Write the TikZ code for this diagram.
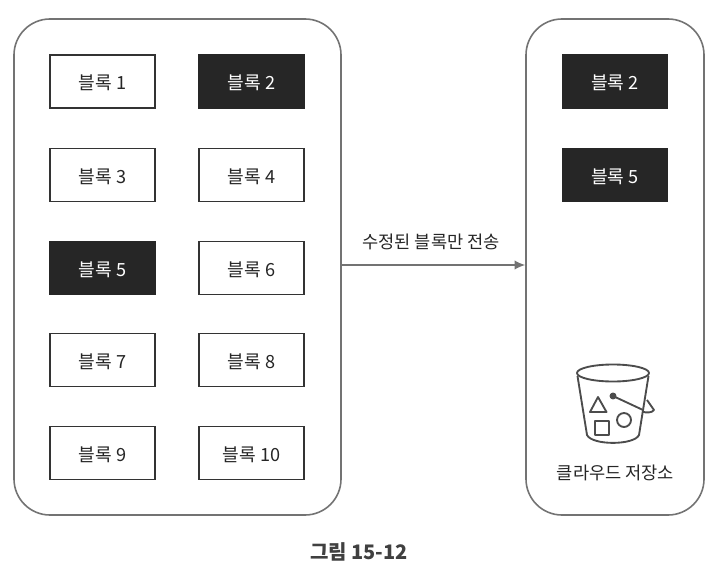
\documentclass[tikz,border=0pt]{standalone}
\usepackage{fontspec}
\usetikzlibrary{arrows.meta}
\setmainfont{Noto Sans CJK KR}
\begin{document}
\begin{tikzpicture}[x=0.75pt,y=-0.75pt,
  panel/.style={draw=black!55,line width=1.2pt,rounded corners=27pt,minimum width=0pt,inner sep=0pt},
  blockw/.style={draw=black!80,line width=0.9pt,fill=white,minimum width=78.75pt,minimum height=39.75pt,inner sep=0pt,text=black!85,font=\fontsize{13.6}{15}\selectfont,text height=13pt,text depth=0.6pt},
  blockd/.style={draw=black!85,line width=0.9pt,fill=black!85,minimum width=78.75pt,minimum height=39.75pt,inner sep=0pt,text=white,font=\fontsize{13.6}{15}\selectfont,text height=13pt,text depth=0.6pt},
  lab/.style={inner sep=0pt,text=black!85,font=\fontsize{13.2}{15}\selectfont},
  icon/.style={draw=black!70,line width=1.4pt,line join=round}]
\useasboundingbox (0,0) rectangle (720,574);
\node[panel,minimum width=245.25pt,minimum height=372pt] (left) at (177.5,267) {};
\node[panel,minimum width=133.5pt,minimum height=372pt] (right) at (615,267) {};
\node[blockw] (b1) at (102.5,81.5) {블록 1};
\node[blockd] (b2) at (251.5,81.5) {블록 2};
\node[blockw] (b3) at (102.5,175) {블록 3};
\node[blockw] (b4) at (251.5,175) {블록 4};
\node[blockd] (b5) at (102.5,268) {블록 5};
\node[blockw] (b6) at (251.5,268) {블록 6};
\node[blockw] (b7) at (102.5,360) {블록 7};
\node[blockw] (b8) at (251.5,360) {블록 8};
\node[blockw] (b9) at (102.5,453) {블록 9};
\node[blockw] (b10) at (251.5,453) {블록 10};
\node[blockd] (r2) at (615,81.5) {블록 2};
\node[blockd] (r5) at (615,175) {블록 5};
\coordinate (a0) at (left.east |- 0,265);
\coordinate (a1) at (right.west |- 0,265);
\draw[draw=black!55,line width=0.9pt,-{Latex[length=8pt,width=7pt]}] (a0) -- (a1);
\node[lab] (t) at (431,241.5) {수정된 블록만 전송};
% bucket
\draw[icon] (613,373) ellipse [x radius=36,y radius=8.5];
\draw[icon] (577.5,376) -- (587,435) .. controls (592,445.5) and (634,445.5) .. (639,435) -- (648.5,376);
\draw[icon] (598,397) -- (590,412) -- (606.5,412) -- cycle;
\draw[icon] (595,421) rectangle (609,435);
\draw[icon] (624,420) circle [radius=7];
\draw[icon,fill=black!70] (613,396) circle [radius=2.5];
\draw[icon] (613,396) -- (643,410);
\draw[icon] (647,400) -- (654,410) .. controls (652,413) and (646,413) .. (642,411.5);
\node[lab] (cl) at (615.5,472.5) {클라우드 저장소};
\node[inner sep=0pt,text=black!75,font=\fontsize{15}{17}\selectfont\bfseries] (cap) at (359,552) {그림 15-12};
\end{tikzpicture}
\end{document}
